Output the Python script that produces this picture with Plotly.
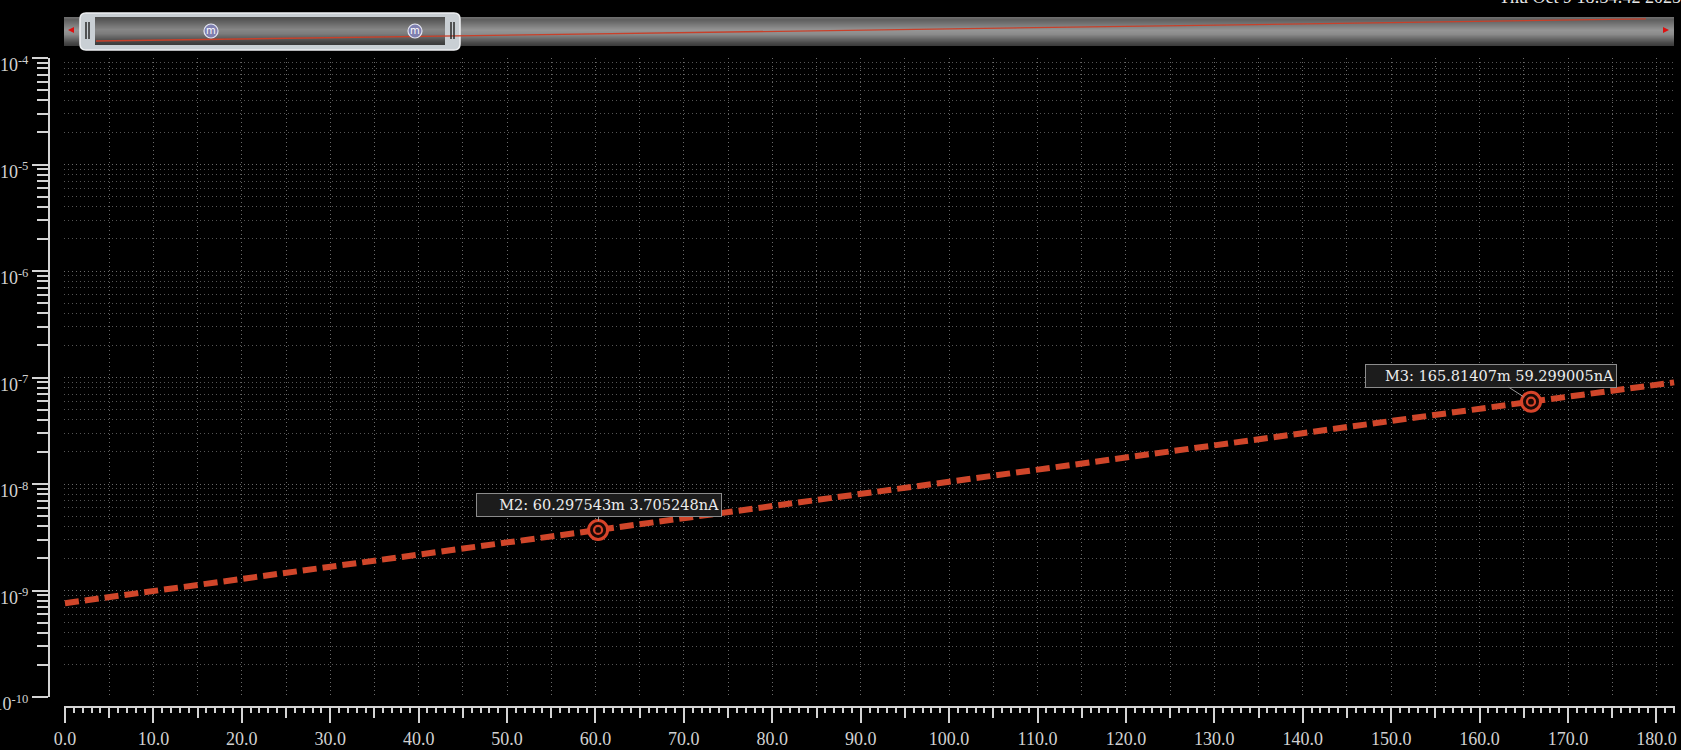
import math
import plotly.graph_objects as go

W, H = 1681, 750

# ---------------- data ----------------
v_mV = [0.0, 20.0, 40.0, 60.297543, 80.0, 100.0, 120.0, 140.0, 165.81407, 182.0]
i_A = [7.6e-10, 1.28e-9, 2.18e-9, 3.705248e-9, 6.2e-9, 1.05e-8, 1.78e-8, 3.0e-8, 5.9299005e-8, 9.0e-8]

mark_names = ["M2", "M3"]
mark_v = [60.297543, 165.81407]
mark_i = [3.705248e-9, 5.9299005e-8]
mark_v_text = ["60.297543m", "165.81407m"]
mark_i_text = ["3.705248nA", "59.299005nA"]

x_tick_vals = [0, 10, 20, 30, 40, 50, 60, 70, 80, 90, 100, 110, 120, 130, 140, 150, 160, 170, 180]
x_tick_text = ["0.0", "10.0", "20.0", "30.0", "40.0", "50.0", "60.0", "70.0", "80.0", "90.0",
               "100.0", "110.0", "120.0", "130.0", "140.0", "150.0", "160.0", "170.0", "180.0"]
y_exponents = [-10, -9, -8, -7, -6, -5, -4]
y_tick_text = ["10<sup>-10</sup>", "10<sup>-9</sup>", "10<sup>-8</sup>", "10<sup>-7</sup>",
               "10<sup>-6</sup>", "10<sup>-5</sup>", "10<sup>-4</sup>"]
timestamp = "Thu Oct 9 18:34:42 2025"

# ---------------- helpers ----------------
def px(x):
    return x / W

def py(y):
    return 1 - y / H

AXC = "#d4d4d4"
TXT = "#d2d2d2"
LINE_C = "#d0462a"
GRID_C = "#6a6a6a"
GRID_DASH = "1px,3px"

y_tick_vals = [10.0 ** e for e in y_exponents]
y_minor_vals = [m * 10.0 ** e for e in y_exponents[:-1] for m in range(2, 10)]

fig = go.Figure()

# overview (top scrollbar thumbnail)
fig.add_trace(go.Scatter(x=v_mV, y=i_A, xaxis="x2", yaxis="y2", mode="lines",
                         line=dict(color="#c8402a", width=1.3), hoverinfo="skip", showlegend=False))
# helper trace for the 5-unit tick axis
fig.add_trace(go.Scatter(x=v_mV, y=i_A, xaxis="x3", yaxis="y", mode="lines",
                         line=dict(color="rgba(0,0,0,0)", width=0), hoverinfo="skip", showlegend=False))
# main curve
fig.add_trace(go.Scatter(x=v_mV, y=i_A, mode="lines",
                         line=dict(color=LINE_C, width=6, dash="14px,6px"), showlegend=False))
# markers: outer ring with dark fill, inner ring
fig.add_trace(go.Scatter(x=mark_v, y=mark_i, mode="markers",
                         marker=dict(symbol="circle", size=19, color="#1a0805",
                                     line=dict(width=3, color="#d8442a")),
                         showlegend=False))
fig.add_trace(go.Scatter(x=mark_v, y=mark_i, mode="markers",
                         marker=dict(symbol="circle-open", size=8, color="#d8442a",
                                     line=dict(width=2.2, color="#d8442a")),
                         showlegend=False))

shapes = []
annotations = []

# ---- overview bar gradient ----
def grey(v):
    v = int(max(0, min(255, v)))
    return f"rgb({v},{v},{v})"

def strip_gradient(x0, x1, y0, y1, profile):
    n = y1 - y0
    for k in range(n):
        t = k / max(1, n - 1)
        c = profile[-1][1]
        for j in range(len(profile) - 1):
            t0, c0 = profile[j]
            t1, c1 = profile[j + 1]
            if t0 <= t <= t1:
                c = c0 + (c1 - c0) * (t - t0) / (t1 - t0 if t1 > t0 else 1)
                break
        shapes.append(dict(type="rect", xref="paper", yref="paper", layer="below",
                           x0=px(x0), x1=px(x1), y0=py(y0 + k + 1), y1=py(y0 + k),
                           line=dict(width=0), fillcolor=grey(c)))

bar_profile = [(0.0, 110), (0.08, 95), (0.45, 150), (0.6, 140), (0.9, 75), (1.0, 60)]
strip_gradient(64, 1674, 17, 46, bar_profile)

# thumb outer
r = 6
x0, x1, y0, y1 = 80, 460, 13, 50
path = (f"M {px(x0 + r)} {py(y0)} L {px(x1 - r)} {py(y0)} Q {px(x1)} {py(y0)} {px(x1)} {py(y0 + r)} "
        f"L {px(x1)} {py(y1 - r)} Q {px(x1)} {py(y1)} {px(x1 - r)} {py(y1)} "
        f"L {px(x0 + r)} {py(y1)} Q {px(x0)} {py(y1)} {px(x0)} {py(y1 - r)} "
        f"L {px(x0)} {py(y0 + r)} Q {px(x0)} {py(y0)} {px(x0 + r)} {py(y0)} Z")
shapes.append(dict(type="path", path=path, xref="paper", yref="paper", layer="below",
                   fillcolor="#c9cfd4", line=dict(color="#eef0f2", width=1.5)))
thumb_profile = [(0.0, 80), (0.1, 90), (0.45, 135), (0.6, 125), (0.9, 70), (1.0, 60)]
strip_gradient(95, 445, 17, 45, thumb_profile)
# grips
for gx in (86, 89, 451, 454):
    shapes.append(dict(type="line", xref="paper", yref="paper", layer="above",
                       x0=px(gx), x1=px(gx), y0=py(22), y1=py(39), line=dict(color="#2a2a2a", width=1.5)))
# red arrows
shapes.append(dict(type="path", xref="paper", yref="paper", layer="above",
                   path=f"M {px(68)} {py(30)} L {px(74)} {py(27)} L {px(74)} {py(33)} Z",
                   fillcolor="#dd1010", line=dict(width=0)))
shapes.append(dict(type="path", xref="paper", yref="paper", layer="above",
                   path=f"M {px(1669)} {py(30)} L {px(1663)} {py(27)} L {px(1663)} {py(33)} Z",
                   fillcolor="#dd1010", line=dict(width=0)))
# "m" buttons
for cx in (211, 415):
    shapes.append(dict(type="circle", xref="paper", yref="paper", layer="above",
                       x0=px(cx - 7), x1=px(cx + 7), y0=py(38), y1=py(24),
                       fillcolor="#7f80b0", line=dict(color="#e4e6f2", width=1.2)))
    annotations.append(dict(x=px(cx), y=py(30.5), xref="paper", yref="paper", text="m",
                            showarrow=False, font=dict(family="DejaVu Sans", size=10, color="#ffffff"),
                            xanchor="center", yanchor="middle"))

# ---- marker labels ----
box_offsets = [(1, -25), (-40, -26)]
box_widths = [240, 246]
for name, v, i, vt, it, (axo, ayo), bw in zip(mark_names, mark_v, mark_i, mark_v_text, mark_i_text,
                                               box_offsets, box_widths):
    annotations.append(dict(
        x=v, y=math.log10(i), xref="x", yref="y",
        text=f"{name}: {vt} {it}", showarrow=True, arrowhead=0, arrowwidth=1,
        arrowcolor="#9a9a9a", ax=axo, ay=ayo, standoff=9,
        bgcolor="#1c1c1c", bordercolor="#8c8c8c", borderwidth=1, borderpad=2,
        width=bw, height=18, align="right",
        font=dict(family="DejaVu Serif", size=14.5, color="#ececec")))

# timestamp (clipped at top)
annotations.append(dict(x=px(1497), y=py(9), xref="paper", yref="paper", text=timestamp,
                        showarrow=False, xanchor="left", yanchor="bottom",
                        font=dict(family="Liberation Serif", size=18, color="#e6e6e6")))

xr = [-0.11, 182.1]
fig.update_layout(
    width=W, height=H,
    margin=dict(l=0, r=0, t=0, b=0),
    paper_bgcolor="#000000", plot_bgcolor="#000000",
    showlegend=False,
    xaxis=dict(domain=[px(64), px(1675)], range=xr, anchor="free", position=py(707),
               showline=True, linecolor=AXC, linewidth=2, ticks="outside", ticklen=15,
               tickwidth=2, tickcolor=AXC, tickmode="array", tickvals=x_tick_vals, ticktext=x_tick_text,
               tickfont=dict(family="Liberation Serif", size=18, color=TXT), ticklabelstandoff=0,
               showgrid=False, zeroline=False, automargin=False,
               minor=dict(tickmode="linear", tick0=0, dtick=1, ticks="outside", ticklen=5,
                          tickwidth=1.5, tickcolor=AXC, showgrid=False)),
    xaxis3=dict(domain=[px(64), px(1675)], range=xr, overlaying="x", anchor="free", position=py(707),
                showline=False, ticks="outside", ticklen=10, tickwidth=1.5, tickcolor=AXC,
                tickmode="linear", tick0=0, dtick=5, showticklabels=False,
                showgrid=True, gridcolor=GRID_C, griddash=GRID_DASH, gridwidth=1,
                zeroline=False, automargin=False),
    yaxis=dict(type="log", domain=[py(697), py(58)], range=[-10, -4], anchor="free", position=px(49),
               showline=True, linecolor=AXC, linewidth=2, ticks="outside", ticklen=16,
               tickwidth=2, tickcolor=AXC, tickmode="array", tickvals=y_tick_vals, ticktext=y_tick_text,
               tickfont=dict(family="Liberation Serif", size=18, color=TXT),
               ticklabelstandoff=0, ticklabelshift=7,
               showgrid=True, gridcolor=GRID_C, griddash=GRID_DASH, gridwidth=1,
               zeroline=False, automargin=False,
               minor=dict(tickmode="array", tickvals=y_minor_vals, ticks="outside", ticklen=11,
                          tickwidth=1.5, tickcolor=AXC, showgrid=True, gridcolor="#555555",
                          griddash=GRID_DASH, gridwidth=1)),
    xaxis2=dict(domain=[px(64), px(1674)], range=[-3.76, 185.3], anchor="y2", visible=False),
    yaxis2=dict(type="log", domain=[py(46), py(17)], range=[-9.59, -6.86], anchor="x2", visible=False),
    shapes=shapes,
    annotations=annotations,
)

fig.write_html("out.html")
